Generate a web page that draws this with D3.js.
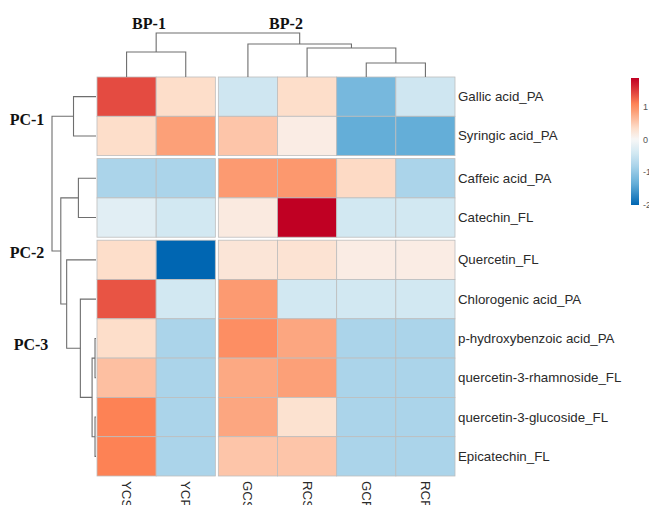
<!DOCTYPE html>
<html>
<head>
<meta charset="utf-8">
<script src="https://cdn.jsdelivr.net/npm/d3@7"></script>
<style>
  body { margin: 0; background: #fff; }
  svg { display: block; }
</style>
</head>
<body>
<div id="chart"></div>
<script>
// data
const colNames = ["YCS", "YCP", "GCS", "RCS", "GCF", "RCF"];
const rowNames = [
    "Gallic acid_PA", "Syringic acid_PA", "Caffeic acid_PA", "Catechin_FL",
    "Quercetin_FL", "Chlorogenic acid_PA", "p-hydroxybenzoic acid_PA",
    "quercetin-3-rhamnoside_FL", "quercetin-3-glucoside_FL", "Epicatechin_FL"
];
// z-scores, one array per row, columns in colNames order
const values = [
    [1.40, 0.35, -0.45, 0.35, -1.20, -0.45],
    [0.35, 0.85, 0.55, 0.15, -1.35, -1.35],
    [-0.80, -0.80, 0.90, 0.92, 0.38, -0.80],
    [-0.25, -0.42, 0.18, 1.88, -0.42, -0.42],
    [0.35, -2.00, 0.25, 0.28, 0.15, 0.15],
    [1.35, -0.42, 0.90, -0.42, -0.42, -0.42],
    [0.35, -0.80, 1.00, 0.80, -0.80, -0.80],
    [0.60, -0.80, 0.78, 0.85, -0.80, -0.80],
    [1.10, -0.80, 0.80, 0.30, -0.80, -0.80],
    [1.10, -0.80, 0.55, 0.55, -0.80, -0.80]
];
// cluster trees (leaf = index, h = merge height)
const colTree = {h: 4.4, c: [
    {h: 2.5, c: [0, 1]},
    {h: 3.3, c: [2, {h: 2.9, c: [3, {h: 1.4, c: [4, 5]}]}]}
]};
const rowTree = {h: 4.5, c: [
    {h: 2.3, c: [0, 1]},
    {h: 3.6, c: [
        {h: 1.8, c: [2, 3]},
        {h: 3.0, c: [4, {h: 1.6, c: [5, {h: 0.4, c: [
            {h: 0.1, c: [6, 7]},
            {h: 0.1, c: [8, 9]}
        ]}]}]}
    ]}
]};
const colGapsAfter = [1];
const rowGapsAfter = [1, 3];
const legendTicks = [1, 0, -1, -2];
const colorDomain = [-2, -1.35, -0.8, -0.42, 0, 0.35, 0.85, 1.1, 1.4, 1.88];
const colorRange = ["#0066b2", "#64aed8", "#abd4ea", "#d2e8f2", "#f7f7f7",
    "#fddeca", "#fca078", "#fd8255", "#e44b41", "#c00023"];

const width = 649, height = 505;
const gap = 3;
const hm = {left: 97, top: 77, right: 455, bottom: 476};

const svg = d3.select("#chart")
    .append("svg")
    .attr("width", width)
    .attr("height", height);

const color = d3.scaleLinear()
    .domain(colorDomain)
    .range(colorRange)
    .clamp(true);

// columns / rows with gaps
const xBand = d3.scaleBand()
    .domain(d3.range(colNames.length))
    .range([hm.left, hm.right - gap * colGapsAfter.length]);
const yBand = d3.scaleBand()
    .domain(d3.range(rowNames.length))
    .range([hm.top, hm.bottom - gap * rowGapsAfter.length]);

const xPos = i => xBand(i) + gap * colGapsAfter.filter(g => g < i).length;
const yPos = i => yBand(i) + gap * rowGapsAfter.filter(g => g < i).length;

// cells
const cells = [];
values.forEach((row, r) => row.forEach((v, c) => cells.push({r, c, v})));

svg.append("g")
    .selectAll("rect")
    .data(cells)
    .join("rect")
    .attr("x", d => xPos(d.c))
    .attr("y", d => yPos(d.r))
    .attr("width", xBand.bandwidth())
    .attr("height", yBand.bandwidth())
    .attr("fill", d => color(d.v))
    .attr("stroke", "#bdbdbd")
    .attr("stroke-width", 0.8);

// row labels
svg.append("g")
    .selectAll("text")
    .data(rowNames)
    .join("text")
    .attr("x", hm.right + 3)
    .attr("y", (d, i) => yPos(i) + yBand.bandwidth() / 2)
    .attr("dominant-baseline", "central")
    .style("font", "13.3px 'Liberation Sans', Arial, sans-serif")
    .style("fill", "#2a2a2a")
    .text(d => d);

// column labels (rotated)
svg.append("g")
    .selectAll("text")
    .data(colNames)
    .join("text")
    .attr("transform", (d, i) => `translate(${xPos(i) + xBand.bandwidth() / 2},${hm.bottom + 5}) rotate(90)`)
    .attr("dominant-baseline", "central")
    .style("font", "13.3px 'Liberation Sans', Arial, sans-serif")
    .style("fill", "#2a2a2a")
    .text(d => d);

// dendrograms
function drawTree(node, g, leafPos, hScale, vertical) {
    // returns [pos, h]
    if (typeof node === "number") return [leafPos(node), 0];
    const kids = node.c.map(k => drawTree(k, g, leafPos, hScale, vertical));
    const hp = hScale(node.h);
    const pts = kids.map(k => [k[0], hScale(k[1])]);
    const path = d3.path();
    path.moveTo(...orient(pts[0][0], pts[0][1]));
    path.lineTo(...orient(pts[0][0], hp));
    path.lineTo(...orient(pts[1][0], hp));
    path.lineTo(...orient(pts[1][0], pts[1][1]));
    g.append("path")
        .attr("d", path.toString())
        .attr("fill", "none")
        .attr("stroke", "#6e6e6e")
        .attr("stroke-width", 1.1);
    return [(kids[0][0] + kids[1][0]) / 2, node.h];

    function orient(p, h) { return vertical ? [p, h] : [h, p]; }
}

const colH = d3.scaleLinear().domain([0, colTree.h]).range([hm.top, 33]);
drawTree(colTree, svg.append("g"), i => xPos(i) + xBand.bandwidth() / 2, colH, true);

const rowH = d3.scaleLinear().domain([0, rowTree.h]).range([hm.left - 1, 52]);
drawTree(rowTree, svg.append("g"), i => yPos(i) + yBand.bandwidth() / 2, rowH, false);

// cluster labels
const groupLabels = [
    {t: "BP-1", x: 149, y: 23},
    {t: "BP-2", x: 286, y: 23},
    {t: "PC-1", x: 27, y: 119},
    {t: "PC-2", x: 27, y: 252},
    {t: "PC-3", x: 31, y: 344}
];
svg.append("g")
    .selectAll("text")
    .data(groupLabels)
    .join("text")
    .attr("x", d => d.x)
    .attr("y", d => d.y)
    .attr("text-anchor", "middle")
    .attr("dominant-baseline", "central")
    .style("font", "bold 16px 'Liberation Serif', 'Times New Roman', serif")
    .style("fill", "#111")
    .text(d => d.t);

// legend
const legTop = 78, legBottom = 205, legX = 631, legW = 8;
const legY = d3.scaleLinear().domain([colorDomain[0], colorDomain[colorDomain.length - 1]]).range([legBottom, legTop]);

const grad = svg.append("defs").append("linearGradient")
    .attr("id", "legGrad")
    .attr("x1", 0).attr("x2", 0).attr("y1", 1).attr("y2", 0);
d3.range(0, 1.0001, 0.02).forEach(t => {
    const v = legY.domain()[0] + t * (legY.domain()[1] - legY.domain()[0]);
    grad.append("stop").attr("offset", t).attr("stop-color", color(v));
});

svg.append("rect")
    .attr("x", legX)
    .attr("y", legTop)
    .attr("width", legW)
    .attr("height", legBottom - legTop)
    .attr("fill", "url(#legGrad)");

svg.append("g")
    .selectAll("text")
    .data(legendTicks)
    .join("text")
    .attr("x", legX + legW + 4)
    .attr("y", d => legY(d))
    .attr("dominant-baseline", "central")
    .style("font", "9px 'Liberation Sans', Arial, sans-serif")
    .style("fill", "#555")
    .text(d => d);
</script>
</body>
</html>
